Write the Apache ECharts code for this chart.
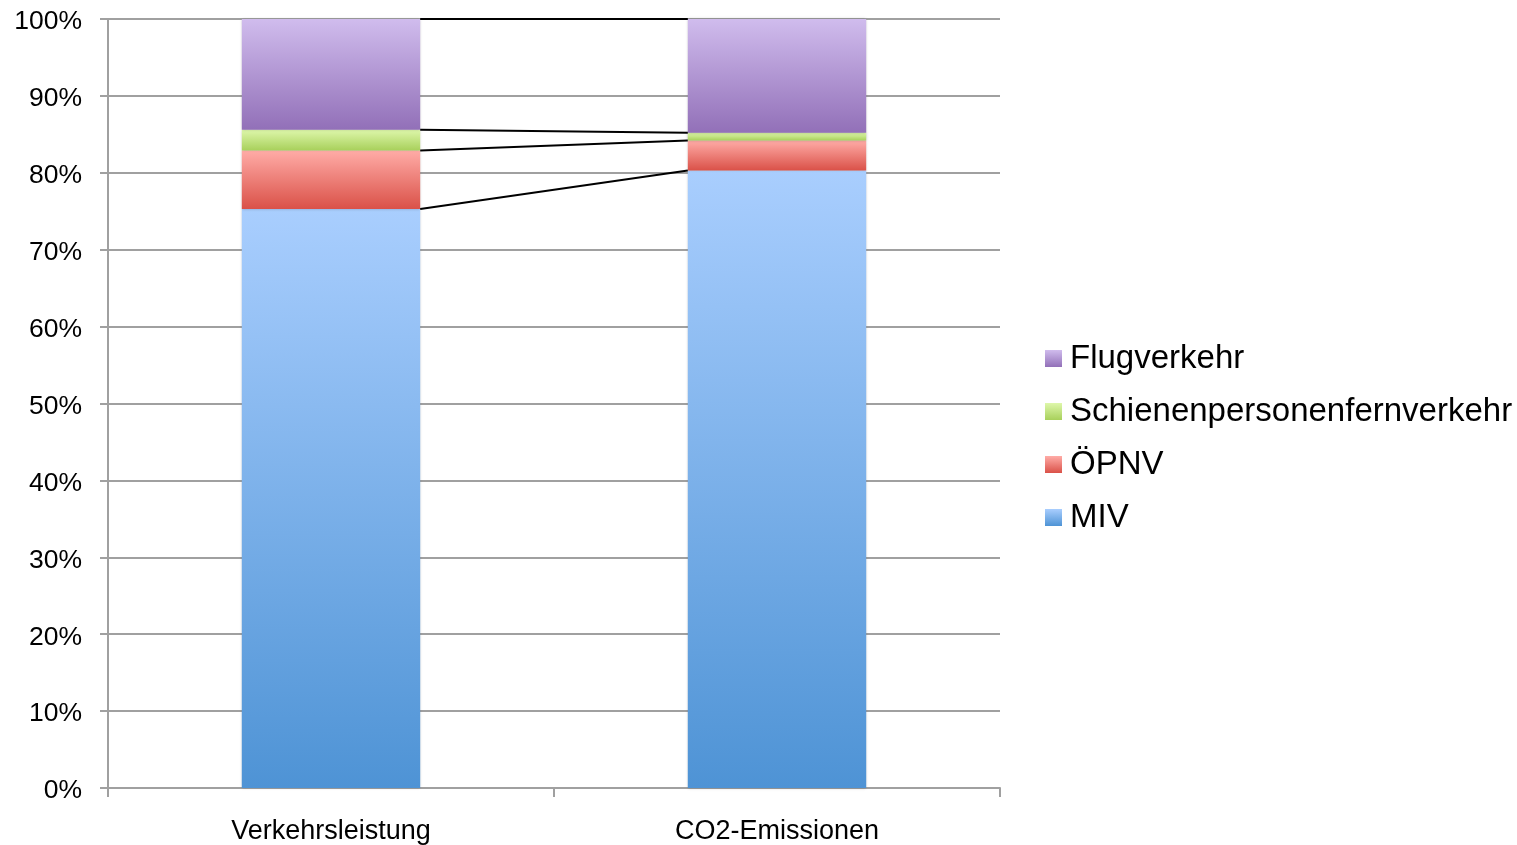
<!DOCTYPE html>
<html>
<head>
<meta charset="utf-8">
<script src="https://cdn.jsdelivr.net/npm/echarts@6/dist/echarts.min.js"></script>
<style>
html,body{margin:0;padding:0;background:#fff;}
#chart{width:1517px;height:845px;}
</style>
</head>
<body>
<div id="chart"></div>
<script>
const categories = ['Verkehrsleistung', 'CO2-Emissionen'];
const seriesNames = ['MIV', 'ÖPNV', 'Schienenpersonenfernverkehr', 'Flugverkehr'];
const miv = [75.3, 80.3];
const oepnv = [7.6, 3.9];
const schiene = [2.7, 1.0];
const flug = [14.4, 14.8];
const yTicks = [0, 10, 20, 30, 40, 50, 60, 70, 80, 90, 100];

const FONT = 'Liberation Sans, Arial, Helvetica, sans-serif';
function grad(top, bottom) {
  return new echarts.graphic.LinearGradient(0, 0, 0, 1, [
    {offset: 0, color: top}, {offset: 1, color: bottom}
  ]);
}
const colors = [
  grad('#a9cefe', '#4e93d5'),
  grad('#ffaca7', '#da5148'),
  grad('#def7ab', '#a8d05b'),
  grad('#d0bced', '#9270b8')
];
const values = [miv, oepnv, schiene, flug];

// cumulative tops for connector lines
const levels = [];
let acc = [0, 0];
values.forEach(v => {
  acc = acc.map((a, i) => a + v[i]);
  levels.push([acc[0], acc[1]]);
});

const barSeries = values.map((v, i) => ({
  name: seriesNames[i],
  type: 'bar',
  stack: 'total',
  barWidth: '40%',
  data: v,
  itemStyle: {
    color: colors[i],
    shadowColor: 'rgba(0,0,0,0.25)',
    shadowBlur: 3
  },
  emphasis: {disabled: true}
}));

const connector = {
  type: 'custom',
  name: 'connector',
  silent: true,
  z: 5,
  data: levels.map(l => [0, l[0], l[1]]),
  renderItem: function (params, api) {
    const v1 = api.value(1), v2 = api.value(2);
    const p1 = api.coord([0, v1]);
    const p2 = api.coord([1, v2]);
    const bw = api.size([1, 0])[0] * 0.4;
    return {
      type: 'line',
      shape: {x1: p1[0] + bw / 2, y1: p1[1], x2: p2[0] - bw / 2, y2: p2[1]},
      style: {stroke: '#000', lineWidth: 2}
    };
  }
};

const chart = echarts.init(document.getElementById('chart'));
chart.setOption({
  animation: false,
  backgroundColor: '#fff',
  grid: {left: 108, right: 517, top: 19, bottom: 56},
  legend: {
    orient: 'vertical',
    left: 1040,
    top: 337,
    data: ['Flugverkehr', 'Schienenpersonenfernverkehr', 'ÖPNV', 'MIV'],
    itemWidth: 17,
    itemHeight: 17,
    itemGap: 20,
    icon: 'rect',
    textStyle: {fontFamily: FONT, fontSize: 33, color: '#000', lineHeight: 33, padding: [0, 0, 0, 3]}
  },
  xAxis: {
    type: 'category',
    data: categories,
    boundaryGap: true,
    axisLine: {lineStyle: {color: '#a0a0a0', width: 2}},
    axisTick: {show: true, length: 9, lineStyle: {color: '#a0a0a0', width: 2}},
    axisLabel: {fontFamily: FONT, fontSize: 27, color: '#000', margin: 30}
  },
  yAxis: {
    type: 'value',
    min: 0,
    max: 100,
    interval: 10,
    axisLine: {show: true, lineStyle: {color: '#a0a0a0', width: 2}},
    axisTick: {show: true, length: 8, lineStyle: {color: '#a0a0a0', width: 2}},
    axisLabel: {
      fontFamily: FONT, fontSize: 26.5, color: '#000', margin: 26,
      formatter: v => yTicks.includes(v) ? '{a|' + v + '%}' : '',
      rich: {a: {fontFamily: FONT, fontSize: 26.5, color: '#000', padding: [6, 0, 0, 0]}}
    },
    splitLine: {show: true, lineStyle: {color: '#a0a0a0', width: 2}}
  },
  series: barSeries.concat([connector])
});
</script>
</body>
</html>
